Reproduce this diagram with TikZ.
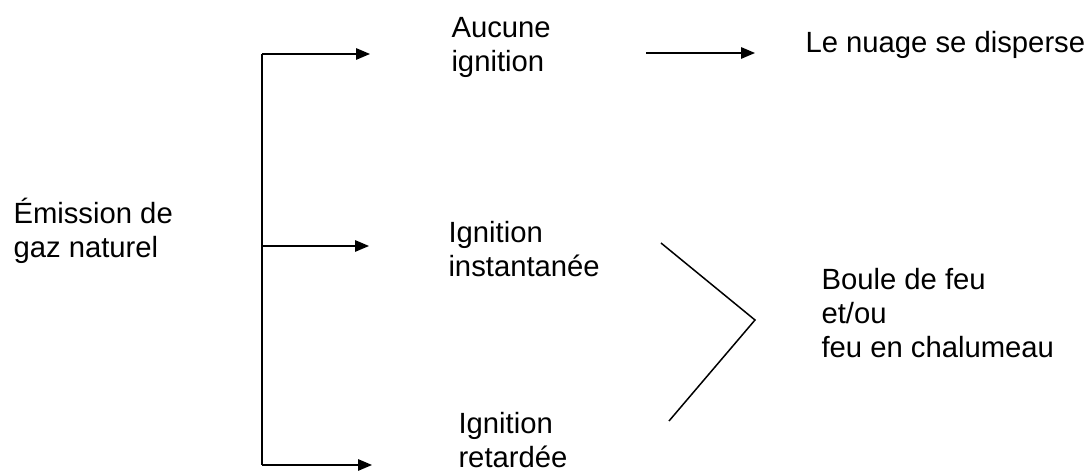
\documentclass[tikz,border=0pt]{standalone}
\usepackage{fontspec}
\setmainfont{Liberation Sans}
\usetikzlibrary{arrows.meta}

\tikzset{
    txt/.style={anchor=base west, inner sep=0pt, align=left,
        font=\fontsize{11.7}{13.6}\selectfont},
    fleche/.style={-{Triangle[length=5.6pt, width=4.6pt]}, line width=0.6pt},
    trait/.style={line width=0.6pt}
}

\begin{document}
\begin{tikzpicture}[x=0.4pt, y=-0.4pt]
            \useasboundingbox (0,0) rectangle (1089,472);

            % textes (ancre sur la derniere ligne)
            \node (1) [txt] at (13,258) {\'Emission de\\gaz naturel};
            \node (2) [txt] at (451,72) {Aucune\\ignition};
            \node (3) [txt] at (448,277) {Ignition\\instantan\'ee};
            \node (4) [txt] at (458,468) {Ignition\\retard\'ee};
            \node (5) [txt] at (805,53) {Le nuage se disperse};
            \node (6) [txt] at (821,358) {Boule de feu\\et/ou\\feu en chalumeau};

            % points des traits
            \coordinate (t1) at (262,54);
            \coordinate (t2) at (262,246);
            \coordinate (t3) at (262,465);
            \coordinate (a1) at (370,54);
            \coordinate (a2) at (369,246);
            \coordinate (a3) at (372,465);
            \coordinate (b1) at (646,53);
            \coordinate (b2) at (755,53);
            \coordinate (c1) at (661,243);
            \coordinate (c2) at (755,320);
            \coordinate (c3) at (669,421);

            \draw[trait] (t1) -- (t3);
            \draw[fleche] (t1) -- (a1);
            \draw[fleche] (t2) -- (a2);
            \draw[fleche] (t3) -- (a3);
            \draw[fleche] (b1) -- (b2);
            \draw[trait] (c1) -- (c2) -- (c3);
        \end{tikzpicture}
\end{document}
